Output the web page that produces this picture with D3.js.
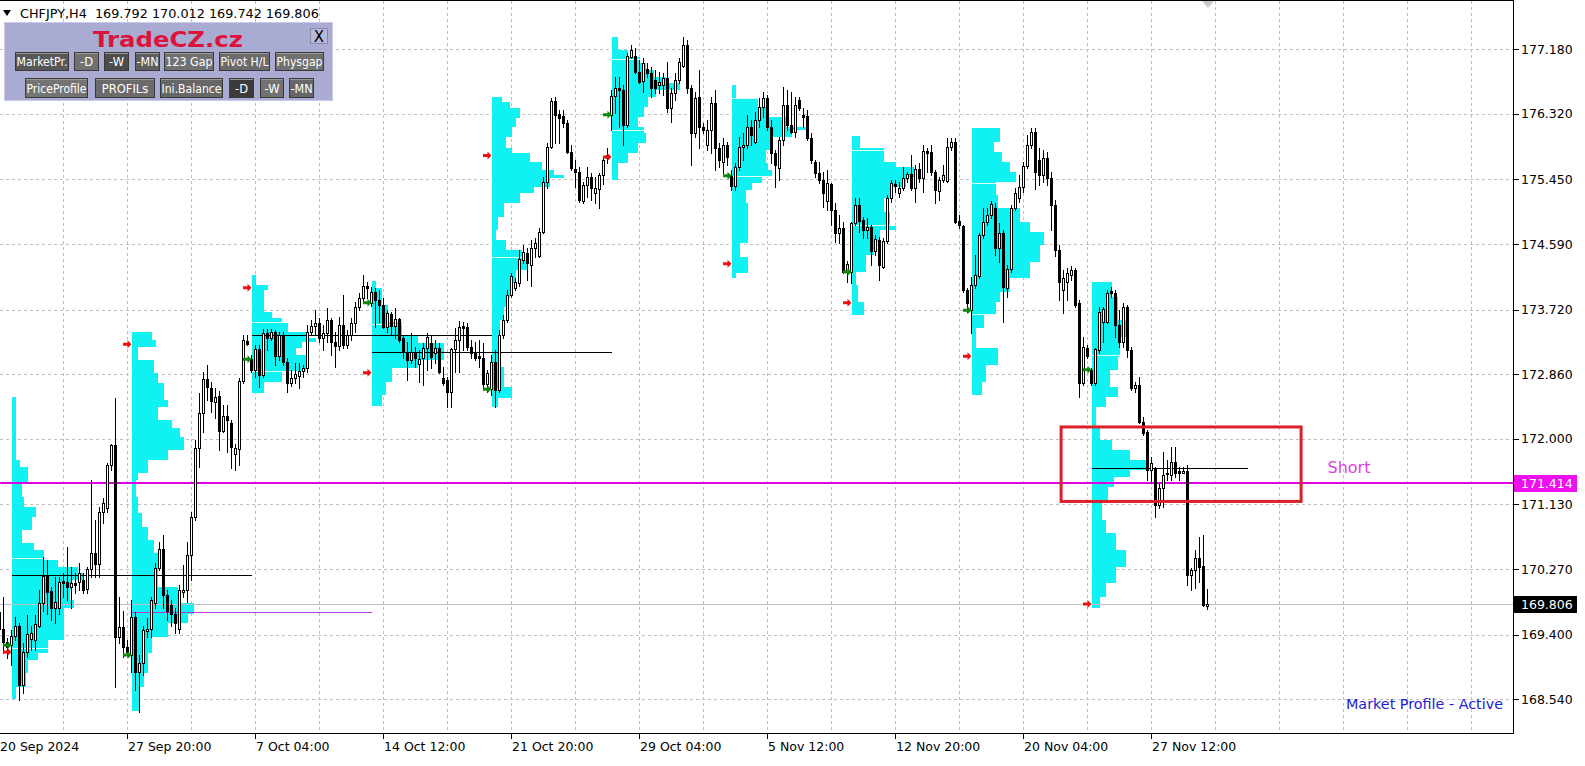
<!DOCTYPE html>
<html><head><meta charset="utf-8">
<script src="https://cdn.jsdelivr.net/npm/d3@7"></script>
<style>
html,body{margin:0;padding:0;background:#fff;overflow:hidden}
svg{display:block}
text{font-family:"DejaVu Sans",sans-serif}
</style></head><body>
<svg id="c" width="1585" height="766"></svg>
<script>
// ---------------- DATA ----------------
const symbol = "CHFJPY,H4";
// H4 bars from 20 Sep 2024 12:00, [open, high, low, close]
const ohlc = [
[169.70,169.79,169.33,169.48],[169.48,169.90,169.15,169.30],[169.30,169.35,169.09,169.24],[169.26,169.46,168.99,169.38],
[169.38,169.63,169.33,169.52],[169.52,169.55,168.53,168.73],[168.73,169.29,168.62,169.17],[169.17,169.66,169.10,169.41],
[169.34,169.52,169.19,169.42],[169.33,169.66,169.19,169.54],[169.52,169.99,169.50,169.82],[169.82,170.43,169.72,170.18],
[170.18,170.39,169.68,169.96],[169.98,170.03,169.59,169.76],[169.76,170.16,169.55,169.83],[169.75,170.16,169.68,170.10],
[170.11,170.22,169.90,170.08],[170.10,170.56,169.86,170.03],[170.03,170.30,169.76,170.08],[170.08,170.22,169.95,170.06],
[170.10,170.35,169.99,170.22],[170.12,170.22,169.95,169.99],[170.00,170.30,169.95,170.27],[170.27,171.45,170.16,170.48],
[170.48,170.92,170.16,170.34],[170.34,171.09,170.16,171.03],[171.03,171.21,170.89,171.15],[171.08,171.68,171.03,171.65],
[171.65,171.94,171.59,171.92],[171.92,172.54,168.70,169.37],[169.37,169.90,169.29,169.50],[169.50,169.72,169.10,169.23],
[169.23,169.33,169.13,169.17],[169.13,169.86,168.90,169.63],[169.63,169.70,168.66,168.90],[168.90,169.13,168.37,169.02],
[169.02,169.52,168.86,169.46],[169.46,169.62,169.37,169.48],[169.48,169.90,169.37,169.86],[169.82,170.35,169.76,170.28],
[170.28,170.63,170.26,170.54],[170.54,170.72,169.76,169.92],[169.92,169.99,169.59,169.72],[169.79,169.86,169.52,169.68],
[169.68,169.76,169.42,169.56],[169.48,170.06,169.42,169.99],[169.96,170.32,169.90,169.99],[169.99,170.63,169.83,170.46],
[170.46,171.03,170.12,170.96],[170.96,171.99,170.92,171.88],[171.88,172.61,171.63,172.34],[172.34,172.89,172.09,172.80],
[172.80,172.98,172.52,172.69],[172.68,172.76,172.36,172.50],[172.49,172.68,172.28,172.56],[172.57,172.64,171.85,172.10],
[172.10,172.45,172.09,172.30],[172.30,172.45,171.83,172.25],[172.21,172.25,171.61,171.90],[171.80,171.94,171.59,171.88],
[171.87,172.81,171.65,172.77],[172.77,173.38,172.74,173.31],[173.30,173.38,173.25,173.26],[173.06,173.12,172.89,172.92],
[172.92,173.25,172.82,173.19],[173.20,173.25,172.69,172.85],[172.85,173.46,172.82,173.41],[173.41,173.46,173.18,173.34],
[173.34,173.46,173.32,173.42],[173.42,173.45,172.98,173.10],[173.10,173.42,173.05,173.38],[173.38,173.42,172.98,173.02],
[173.02,173.08,172.62,172.74],[172.74,172.92,172.70,172.81],[172.81,173.01,172.74,172.86],[172.84,173.01,172.68,172.90],
[172.90,172.98,172.82,172.94],[172.94,173.51,172.89,173.42],[173.42,173.58,173.38,173.50],[173.50,173.71,173.38,173.54],
[173.54,173.61,173.29,173.34],[173.34,173.51,173.18,173.41],[173.41,173.74,173.29,173.58],[173.58,173.61,173.12,173.29],
[173.29,173.42,172.96,173.24],[173.24,173.62,173.18,173.51],[173.51,173.91,173.21,173.25],[173.25,173.45,173.21,173.38],
[173.38,173.61,173.32,173.54],[173.54,173.82,173.42,173.75],[173.75,173.94,173.71,173.87],[173.87,174.18,173.82,174.03],
[174.03,174.09,173.87,174.01],[173.81,174.02,173.77,173.95],[173.95,174.01,173.49,173.85],[173.85,173.98,173.55,173.78],
[173.78,173.87,173.47,173.49],[173.49,173.71,173.42,173.67],[173.66,173.69,173.38,173.50],[173.50,173.74,173.34,173.59],
[173.59,173.61,173.29,173.32],[173.34,173.38,173.08,173.16],[173.16,173.29,172.78,173.05],[173.05,173.41,173.01,173.16],
[173.16,173.22,172.96,173.08],[173.00,173.18,172.76,173.06],[173.08,173.27,172.72,173.21],[173.21,173.41,172.92,173.36],
[173.28,173.38,172.94,173.09],[173.14,173.32,173.01,173.21],[173.21,173.28,172.88,172.89],[172.81,172.96,172.72,172.74],
[172.78,172.82,172.42,172.62],[172.62,173.21,172.42,173.20],[173.20,173.47,172.89,173.32],[173.32,173.57,172.89,173.49],
[173.50,173.55,173.18,173.47],[173.49,173.54,173.18,173.22],[173.22,173.32,173.08,173.14],[173.16,173.29,173.05,173.08],
[173.10,173.32,172.96,173.08],[173.08,173.28,172.69,172.73],[172.73,172.92,172.62,172.88],[172.66,173.12,172.58,173.02],
[173.02,173.18,172.42,172.65],[172.65,173.45,172.62,173.38],[173.38,173.65,173.34,173.58],[173.58,173.98,173.55,173.91],
[173.91,174.21,173.89,174.17],[174.01,174.14,173.98,174.09],[174.07,174.51,174.03,174.39],[174.38,174.58,174.34,174.48],
[174.47,174.54,174.11,174.34],[174.31,174.64,174.03,174.54],[174.54,174.67,174.42,174.60],[174.43,174.80,174.42,174.75],
[174.75,175.48,174.74,175.42],[175.42,175.93,175.33,175.88],[175.88,176.53,175.87,176.49],[176.49,176.55,175.93,176.31],
[176.32,176.37,175.93,176.27],[176.29,176.37,176.15,176.20],[176.20,176.24,175.80,175.81],[175.81,175.91,175.58,175.60],
[175.59,175.71,175.35,175.55],[175.55,175.62,175.15,175.18],[175.16,175.42,175.14,175.38],[175.38,175.62,175.22,175.48],
[175.48,175.54,175.18,175.34],[175.27,175.48,175.14,175.34],[175.32,175.54,175.07,175.51],[175.51,175.73,175.39,175.71],
[175.73,175.87,175.67,175.77],[176.31,176.64,176.11,176.56],[176.56,176.81,176.33,176.67],[176.67,176.81,176.15,176.64],
[176.64,176.70,175.91,176.17],[176.17,177.13,176.15,177.09],[177.08,177.24,177.06,177.17],[177.09,177.20,176.87,176.88],
[176.88,177.04,176.73,176.75],[176.76,177.06,176.61,177.00],[176.92,177.00,176.81,176.87],[176.87,176.95,176.55,176.67],
[176.77,176.91,176.60,176.67],[176.70,176.88,176.60,176.75],[176.70,176.87,176.57,176.80],[176.80,177.01,176.35,176.40],
[176.40,176.67,176.21,176.60],[176.60,176.87,176.51,176.77],[176.77,177.06,176.73,177.01],[176.96,177.34,176.94,177.24],
[177.24,177.30,176.60,176.67],[176.67,176.70,175.64,176.07],[176.07,176.61,176.01,176.53],[176.55,176.91,175.87,176.15],
[176.15,176.20,176.07,176.11],[175.91,176.24,175.84,176.11],[176.11,176.55,175.80,176.47],[176.47,176.64,175.58,175.87],
[175.87,175.93,175.62,175.71],[175.68,176.00,175.54,175.91],[175.91,175.95,175.64,175.75],[175.50,175.58,175.31,175.36],
[175.36,175.67,175.31,175.62],[175.62,176.01,175.58,175.88],[175.88,176.07,175.71,175.91],[175.91,176.31,175.87,176.15],
[176.15,176.24,175.91,176.04],[175.95,176.35,175.93,176.24],[176.24,176.53,176.15,176.41],[176.41,176.61,176.28,176.53],
[176.53,176.57,176.11,176.15],[176.15,176.24,175.67,175.80],[175.80,175.84,175.35,175.64],[175.60,176.01,175.44,175.97],
[175.97,176.68,175.91,176.44],[176.44,176.64,176.11,176.17],[176.17,176.61,176.07,176.08],[176.08,176.55,176.01,176.44],
[176.51,176.55,176.37,176.40],[176.31,176.40,176.15,176.28],[176.29,176.37,175.97,176.00],[176.00,176.07,175.67,175.71],
[175.68,175.71,175.48,175.54],[175.54,175.68,175.40,175.44],[175.44,175.55,175.08,175.27],[175.16,175.58,175.04,175.40],
[175.39,175.40,174.84,175.04],[175.04,175.14,174.62,174.74],[174.74,174.98,174.60,174.80],[174.80,174.88,174.21,174.22],
[174.22,174.37,174.09,174.33],[174.22,174.88,174.07,174.87],[174.87,175.20,174.84,175.11],[175.11,175.20,174.75,174.90],
[174.91,174.95,174.67,174.78],[174.78,174.94,174.67,174.82],[174.82,174.84,174.31,174.50],[174.50,174.71,174.45,174.66],
[174.64,174.68,174.11,174.31],[174.29,174.67,174.27,174.63],[174.63,175.24,174.60,175.20],[175.20,175.44,175.15,175.40],
[175.39,175.44,175.28,175.36],[175.27,175.42,175.22,175.34],[175.34,175.62,175.31,175.47],[175.47,175.55,175.42,175.52],
[175.52,175.77,175.31,175.34],[175.34,175.64,175.15,175.59],[175.59,175.67,175.42,175.47],[175.47,175.91,175.28,175.83],
[175.83,175.87,175.55,175.80],[175.81,175.91,175.51,175.55],[175.55,175.58,175.14,175.31],[175.30,175.48,175.18,175.44],
[175.44,175.64,175.42,175.51],[175.43,176.00,175.42,175.88],[175.88,176.00,175.84,175.95],[175.95,176.00,174.87,174.88],
[174.90,174.98,174.80,174.84],[174.83,174.84,173.95,173.98],[173.98,174.01,173.69,173.81],[173.71,174.15,173.41,174.05],
[174.05,174.45,174.01,174.18],[174.17,174.74,174.14,174.71],[174.71,175.07,174.67,174.88],[174.88,175.07,174.84,174.98],
[174.98,175.16,174.94,175.12],[175.07,175.14,174.44,174.54],[174.54,174.87,174.35,174.74],[174.74,174.78,173.55,174.02],
[174.01,174.31,173.89,174.26],[174.26,175.11,174.22,175.07],[175.07,175.34,175.04,175.27],[175.20,175.51,175.15,175.35],
[175.35,175.68,175.28,175.63],[175.63,176.04,175.60,175.91],[175.91,176.13,175.87,176.08],[176.08,176.13,175.32,175.55],
[175.71,175.87,175.38,175.51],[175.51,175.84,175.42,175.73],[175.73,175.81,175.38,175.47],[175.47,175.55,174.78,175.11],
[175.11,175.18,174.43,174.51],[174.51,174.58,173.85,174.09],[173.98,174.25,173.67,174.14],[174.09,174.27,173.85,174.20],
[174.18,174.30,174.11,174.25],[174.25,174.27,173.75,173.78],[173.81,173.85,172.56,172.74],[172.74,173.35,172.72,173.22],
[173.21,173.25,173.08,173.10],[172.92,172.94,172.72,172.74],[172.74,173.21,172.72,173.20],[173.18,173.75,173.14,173.69],
[173.55,173.75,173.29,173.73],[173.55,173.98,173.54,173.94],[173.97,174.02,173.89,173.94],[173.94,173.98,173.36,173.51],
[173.51,173.71,173.22,173.29],[173.29,173.81,173.22,173.75],[173.75,173.78,173.09,173.18],[173.18,173.22,172.65,172.68],
[172.68,172.76,172.62,172.72],[172.72,172.82,172.21,172.22],[172.22,172.29,172.05,172.08],[172.09,172.12,171.45,171.59],
[171.59,171.76,171.41,171.68],[171.61,171.63,170.96,171.12],[171.12,171.41,171.08,171.35],[171.35,171.83,171.09,171.52],
[171.55,171.72,171.45,171.53],[171.52,171.89,171.45,171.69],[171.69,171.89,171.49,171.55],[171.57,171.63,171.45,171.55],
[171.56,171.63,171.55,171.57],[171.57,171.65,170.06,170.19],[170.19,170.28,169.99,170.26],[170.26,170.52,170.02,170.42],
[170.42,170.70,170.10,170.30],[170.31,170.72,169.78,169.79],[169.792,170.012,169.742,169.806]
];
// first bar of each weekly market profile (Monday 00:00)
const weekStartBar = [3,33,63,93,123,153,183,213,243,273];
// weekly market profiles: price level edges (top -> bottom) and TPO counts between edges
const profileEdges = [
[172.56,171.72,171.63,171.41,171.23,171.09,170.96,170.79,170.62,170.52,170.39,170.30,170.22,170.12,169.99,169.86,169.76,169.63,169.50,169.33,169.15,169.06,168.89,168.70,168.55],
[173.42,173.32,173.22,173.05,172.88,172.74,172.52,172.42,172.25,172.14,172.03,171.85,171.72,171.55,171.45,171.23,171.01,170.83,170.66,170.48,170.03,169.82,169.68,169.55,169.37,169.15,168.89,168.70,168.39],
[174.18,174.05,173.98,173.69,173.61,173.55,173.42,173.34,173.29,173.21,173.12,172.98,172.89,172.76,172.61],
[174.10,174.01,173.78,173.55,173.38,173.28,173.05,172.94,172.76,172.58,172.44],
[176.55,176.48,176.40,176.27,176.15,176.01,175.87,175.80,175.68,175.58,175.51,175.47,175.35,175.27,175.14,174.95,174.78,174.64,174.51,174.38,174.25,174.07,173.89,173.75,173.58,173.36,173.18,172.96,172.82,172.69,172.54,172.42],
[177.34,177.17,177.08,177.00,176.91,176.81,176.73,176.64,176.55,176.41,176.28,176.15,176.07,175.93,175.80,175.67,175.44],
[176.70,176.53,176.41,176.28,176.15,176.11,176.01,175.84,175.67,175.58,175.48,175.40,175.31,175.14,174.60,174.42,174.21,174.14],
[176.03,175.87,175.68,175.61,175.48,175.35,175.20,175.02,174.84,174.78,174.62,174.44,174.22,174.05,173.82,173.65],
[176.13,175.95,175.82,175.68,175.55,175.42,175.24,175.07,174.88,174.75,174.58,174.35,174.14,173.95,173.82,173.65,173.47,173.21,172.98,172.76,172.58],
[174.09,173.89,173.58,173.36,173.09,172.92,172.69,172.56,172.42,172.16,171.99,171.85,171.72,171.59,171.49,171.36,171.15,170.92,170.75,170.52,170.30,170.08,169.90,169.76]
];
const profileTPO = [
[2,4,8,5,6,12,10,5,11,16,23,33,36,30,29,31,26,26,26,18,13,8,7,2],
[10,12,3,11,13,16,18,13,20,24,26,18,8,3,2,3,5,8,11,13,23,31,28,18,10,8,6,4],
[2,8,6,10,15,18,28,32,25,22,28,27,15,6],
[2,5,8,15,23,36,23,10,7,5],
[5,9,14,12,10,7,10,19,25,31,36,29,21,14,6,3,2,7,15,18,12,9,8,6,4,4,3,6,6,10,3],
[3,8,14,17,21,27,34,22,18,16,13,16,17,13,8,3],
[2,13,17,27,37,30,20,17,18,20,15,10,7,8,4,8,2],
[4,16,22,31,27,20,16,19,22,14,11,7,2,3,6],
[14,11,15,19,22,12,13,24,29,36,34,29,19,14,12,6,2,13,7,5],
[10,13,17,14,13,9,13,7,2,4,10,19,27,19,11,8,5,7,12,17,12,7,4]
];
// value-area marks inside profiles
const vaWeek  = [0,0,2,2,3,4,5,5,6,6,7,7,8,8,9];
const vaPrice = [170.42,169.22,173.55,172.90,173.53,174.42,177.05,176.11,176.53,175.50,175.84,174.84,175.40,173.66,173.12];
// extended POC lines
const pocWeek   = [0,1,2,3,9];
const pocPrice  = [170.19,169.70,173.38,173.16,171.61];
const pocEndBar = [63,93,123,153,312];
const pocColor  = ["#000000","#b23ad6","#000000","#000000","#000000"];
// price axis
const priceTicks = [177.18,176.32,175.45,174.59,173.72,172.86,172.00,171.13,170.27,169.40,168.54];
const priceTickLabels = ["177.180","176.320","175.450","174.590","173.720","172.860","172.000","171.130","170.270","169.400","168.540"];
// time axis
const timeTickBars = [0,32,64,96,128,160,192,224,256,288];
const timeTickLabels = ["20 Sep 2024","27 Sep 20:00","7 Oct 04:00","14 Oct 12:00","21 Oct 20:00","29 Oct 04:00","5 Nov 12:00","12 Nov 20:00","20 Nov 04:00","27 Nov 12:00"];
// levels and annotations
const shortLevel = 171.414;
const zoneBars = [265.4, 325.4];
const zonePrices = [172.16, 171.17];
const shortLabel = {text:"Short", bar:332, price:171.63};
const statusText = "Market Profile - Active";
// panel buttons
const panelTitle = "TradeCZ.cz";
const buttonRow1 = ["MarketPr.","-D","-W","-MN","123 Gap","Pivot H/L","Physgap"];
const buttonRow2 = ["PriceProfile","PROFILs","Ini.Balance","-D","-W","-MN"];

// ---------------- LAYOUT ----------------
const W = 1585, H = 766, plotRight = 1513.5, plotBottom = 733.5;
const x = d3.scaleLinear().domain([0, 100]).range([-0.5, 399.5]);   // 4 px per bar
const y = d3.scaleLinear().domain([168.54, 177.18]).range([699.3, 49.3]);
const tpo = d3.scaleLinear().domain([0, 1]).range([0, 2]);
const cyan = "#10f2f2";
const ry = v => Math.round(y(v));

const svg = d3.select("#c");
svg.append("rect").attr("width",W).attr("height",H).attr("fill","#fff");

// grid
const grid = svg.append("g").attr("shape-rendering","crispEdges").attr("stroke","#c0c0c0").attr("stroke-dasharray","3,3");
grid.selectAll("line.h").data(priceTicks).join("line")
  .attr("x1",0).attr("x2",plotRight).attr("y1",d=>ry(d)+0.5).attr("y2",d=>ry(d)+0.5);
grid.selectAll("line.v").data(d3.range(16, 400, 16).filter(i => x(i) < plotRight - 2)).join("line")
  .attr("x1",d=>x(d)).attr("x2",d=>x(d)).attr("y1",1).attr("y2",plotBottom);

// profiles
const prof = svg.append("g").attr("shape-rendering","crispEdges");
profileEdges.forEach((edges, w) => {
  const x0 = x(weekStartBar[w]) + 0.5;
  prof.selectAll(null).data(profileTPO[w]).join("rect")
    .attr("x", x0).attr("width", d => tpo(d))
    .attr("y", (d,k) => ry(edges[k]))
    .attr("height", (d,k) => Math.max(1, ry(edges[k+1]) - ry(edges[k])))
    .attr("fill", cyan);
});
// value area marks
function tpoAt(w, p){
  const e = profileEdges[w];
  for (let k = 0; k < e.length - 1; k++) if (p <= e[k] && p > e[k+1]) return profileTPO[w][k];
  return 0;
}
prof.selectAll("line.va").data(vaWeek).join("line")
  .attr("x1", w => x(weekStartBar[w]) + 0.5)
  .attr("x2", (w,k) => x(weekStartBar[w]) + 0.5 + tpo(tpoAt(w, vaPrice[k])))
  .attr("y1", (w,k) => ry(vaPrice[k]) + 0.5).attr("y2", (w,k) => ry(vaPrice[k]) + 0.5)
  .attr("stroke","#ffffff").attr("stroke-opacity",0.85);

// POC lines
svg.append("g").attr("shape-rendering","crispEdges").selectAll("line").data(pocWeek).join("line")
  .attr("x1", w => x(weekStartBar[w]) + 0.5).attr("x2", (w,k) => x(pocEndBar[k]))
  .attr("y1", (w,k) => ry(pocPrice[k]) + 0.5).attr("y2", (w,k) => ry(pocPrice[k]) + 0.5)
  .attr("stroke", (w,k) => pocColor[k]);

// magenta short level
svg.append("line").attr("x1",0).attr("x2",plotRight).attr("y1",y(shortLevel)).attr("y2",y(shortLevel))
  .attr("stroke","#e000e0").attr("stroke-width",2);
// bid line
const last = ohlc[ohlc.length-1];
svg.append("line").attr("shape-rendering","crispEdges").attr("x1",0).attr("x2",plotRight)
  .attr("y1",ry(last[3])+0.5).attr("y2",ry(last[3])+0.5).attr("stroke","#c0c0c0");

// candles
const cg = svg.append("g").attr("shape-rendering","crispEdges");
ohlc.forEach((b, i) => {
  const [o,h,l,c] = b, cx = x(i);
  const top = Math.round(y(Math.max(h,o,c))), bot = Math.round(y(Math.min(l,o,c)));
  cg.append("line").attr("x1",cx).attr("x2",cx).attr("y1",top).attr("y2",bot+1).attr("stroke","#000");
  const yo = ry(o), yc = ry(c);
  if (c > o) {
    const t = yc, bb = Math.max(yo, yc + 2);
    cg.append("rect").attr("x",cx-1).attr("y",t+0.5).attr("width",2).attr("height",bb-t)
      .attr("fill","#fff").attr("stroke","#000");
  } else {
    const t = yo, bb = Math.max(yc, yo + 1);
    cg.append("rect").attr("x",cx-1.5).attr("y",t).attr("width",3).attr("height",bb-t+1).attr("fill","#000");
  }
});

// weekly open/close arrows
function arrow(cx, cy){
  return `M${cx-4.5},${cy-1.5}L${cx},${cy-1.5}L${cx},${cy-4}L${cx+4},${cy}L${cx},${cy+4}L${cx},${cy+1.5}L${cx-4.5},${cy+1.5}Z`;
}
const ag = svg.append("g");
weekStartBar.forEach((s, w) => {
  const e = (w < weekStartBar.length - 1 ? weekStartBar[w+1] : ohlc.length) - 1;
  const ax = x(s) - 4;
  ag.append("path").attr("d", arrow(ax, y(ohlc[s][0]))).attr("fill","#0a8a0a");
  ag.append("path").attr("d", arrow(ax, y(ohlc[e][3]))).attr("fill","#f01010");
});

// zone rectangle + label
svg.append("rect").attr("x",x(zoneBars[0])).attr("y",y(zonePrices[0]))
  .attr("width",x(zoneBars[1])-x(zoneBars[0])).attr("height",y(zonePrices[1])-y(zonePrices[0]))
  .attr("fill","none").attr("stroke","#dc2028").attr("stroke-width",3);
svg.append("text").attr("x",x(shortLabel.bar)).attr("y",y(shortLabel.price)+6)
  .attr("font-size",16).attr("fill","#e23ee2").text(shortLabel.text);

// status text
svg.append("text").attr("x",1503).attr("y",709).attr("text-anchor","end").attr("font-size",14.5)
  .attr("textLength",157).attr("lengthAdjust","spacingAndGlyphs").attr("fill","#2020d0").text(statusText);

// shift marker
svg.append("path").attr("d","M1202,1L1214,1L1208,8Z").attr("fill","#c8c8c8");

// frame / axes
const ax = svg.append("g").attr("shape-rendering","crispEdges");
ax.append("line").attr("x1",0).attr("x2",plotRight).attr("y1",0.5).attr("y2",0.5).attr("stroke","#000");
ax.append("line").attr("x1",plotRight).attr("x2",plotRight).attr("y1",0).attr("y2",plotBottom).attr("stroke","#000");
ax.append("line").attr("x1",0).attr("x2",plotRight).attr("y1",plotBottom).attr("y2",plotBottom).attr("stroke","#000");
ax.selectAll("line.pt").data(priceTicks).join("line")
  .attr("x1",plotRight).attr("x2",plotRight+5).attr("y1",d=>ry(d)+0.5).attr("y2",d=>ry(d)+0.5).attr("stroke","#000");
svg.append("g").selectAll("text").data(priceTicks).join("text")
  .attr("x",1521).attr("y",d=>y(d)+4.5).attr("font-size",12.5).attr("fill","#000")
  .text((d,k)=>priceTickLabels[k]);
ax.selectAll("line.tt").data(timeTickBars.slice(1)).join("line")
  .attr("x1",d=>x(d)).attr("x2",d=>x(d)).attr("y1",plotBottom).attr("y2",plotBottom+5).attr("stroke","#000");
svg.append("g").selectAll("text").data(timeTickBars).join("text")
  .attr("x",(d,k)=> k===0 ? 0 : x(d)+0.5).attr("y",751).attr("font-size",12.5).attr("fill","#000")
  .text((d,k)=>timeTickLabels[k]);

// price label boxes
function priceBox(v, bg){
  svg.append("rect").attr("x",1514).attr("y",Math.round(y(v))-8).attr("width",63).attr("height",17).attr("fill",bg);
  svg.append("text").attr("x",1521).attr("y",y(v)+4.5).attr("font-size",12.5).attr("fill","#fff").text(v.toFixed(3));
}
priceBox(shortLevel, "#ee10ee");
priceBox(last[3], "#000");

// header
svg.append("path").attr("d","M3,10L11,10L7,16Z").attr("fill","#000");
svg.append("text").attr("x",20).attr("y",18).attr("font-size",12.8).style("white-space","pre")
  .text(`${symbol}  ${last[0].toFixed(3)} ${last[1].toFixed(3)} ${last[2].toFixed(3)} ${last[3].toFixed(3)}`);

// panel
const pnl = svg.append("g");
pnl.append("rect").attr("x",4.5).attr("y",22.5).attr("width",328).attr("height",78)
  .attr("fill","#a9abd3").attr("stroke","#c9cbe9");
pnl.append("text").attr("x",168).attr("y",47).attr("text-anchor","middle").attr("font-size",22)
  .attr("font-weight","bold").attr("textLength",150).attr("lengthAdjust","spacingAndGlyphs")
  .attr("fill","#dc143c").text(panelTitle);
pnl.append("rect").attr("x",310.5).attr("y",28.5).attr("width",17).attr("height",15).attr("fill","#b8b9d9").attr("stroke","#8a8aa8");
pnl.append("text").attr("x",319).attr("y",41.5).attr("text-anchor","middle").attr("font-size",15).attr("fill","#000").text("X");
const row1X = [[15,68],[74,98],[104,128],[135,159],[164,213],[219,269],[275,323]];
const row2X = [[25,87],[95,154],[160,222],[229,253],[260,283],[289,313]];
const row1Fill = ["#575757","#717171","#4c4c4c","#5e5e5e","#717171","#6b6b6b","#707070"];
const row2Fill = ["#747474","#6b6b6b","#676767","#3b3b3b","#717171","#676767"];
function buttons(labels, xs, fills, y0, h){
  labels.forEach((t, k) => {
    const [a, b] = xs[k];
    pnl.append("rect").attr("x",a+0.5).attr("y",y0+0.5).attr("width",b-a).attr("height",h)
      .attr("fill",fills[k]).attr("stroke","#3a3a3a");
    pnl.append("line").attr("x1",a+1).attr("x2",b).attr("y1",y0+1.5).attr("y2",y0+1.5).attr("stroke","#9a9a9a");
    const tx = pnl.append("text").attr("x",(a+b)/2+0.5).attr("y",y0+h-4.5).attr("text-anchor","middle")
      .attr("font-size",11.5).attr("fill","#fff").text(t);
    const tl = tx.node().getComputedTextLength();
    if (tl > b - a - 2) tx.attr("textLength", b - a - 2).attr("lengthAdjust","spacingAndGlyphs");
  });
}
buttons(buttonRow1, row1X, row1Fill, 52, 18);
buttons(buttonRow2, row2X, row2Fill, 78, 19);
</script></body></html>
